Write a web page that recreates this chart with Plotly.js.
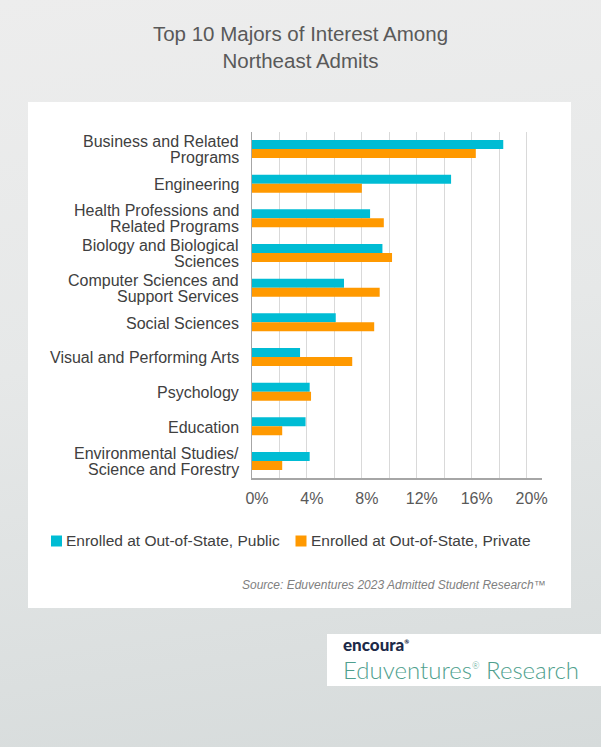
<!DOCTYPE html>
<html><head><meta charset="utf-8">
<script src="https://cdn.plot.ly/plotly-3.0.1.min.js"></script>
<style>
html,body{margin:0;padding:0;width:601px;height:747px;overflow:hidden;
background:linear-gradient(172deg,#ededed 0%,#e6e8e8 45%,#d6dbdb 100%);}
#chart{width:601px;height:747px;}
</style>
</head><body><div id="chart"></div>
<script>
const categories = [
  "Business and Related Programs",
  "Engineering",
  "Health Professions and Related Programs",
  "Biology and Biological Sciences",
  "Computer Sciences and Support Services",
  "Social Sciences",
  "Visual and Performing Arts",
  "Psychology",
  "Education",
  "Environmental Studies/ Science and Forestry"
];
const categoryLabels = [
  "Business and Related<br>Programs",
  "Engineering",
  "Health Professions and<br>Related Programs",
  "Biology and Biological<br>Sciences",
  "Computer Sciences and<br>Support Services",
  "Social Sciences",
  "Visual and Performing Arts",
  "Psychology",
  "Education",
  "Environmental Studies/<br>Science and Forestry"
];
const publicVals  = [18.3, 14.5, 8.6, 9.5, 6.7, 6.1, 3.5, 4.2, 3.9, 4.2];
const privateVals = [16.3, 8.0, 9.6, 10.2, 9.3, 8.9, 7.3, 4.3, 2.2, 2.2];
const seriesNames = ["Enrolled at Out-of-State, Public", "Enrolled at Out-of-State, Private"];
const tickVals = [0, 4, 8, 12, 16, 20];
const tickLabels = tickVals.map(v => v + "%");
const titleText = "Top 10 Majors of Interest Among<br>Northeast Admits";
const sourceText = "Source: Eduventures 2023 Admitted Student Research™";

const W = 601, H = 747;
const px = x => x / W;
const py = y => 1 - y / H;
const colors = ["#00bcd4", "#ff9900"];
const font = "Liberation Sans, Arial, sans-serif";

const traces = [publicVals, privateVals].map((vals, i) => ({
  type: "bar",
  orientation: "h",
  y: categories,
  x: vals,
  name: seriesNames[i],
  marker: {color: colors[i]},
  showlegend: false
}));

const shapes = [
  {type: "rect", xref: "paper", yref: "paper", x0: px(28), x1: px(571), y0: py(608), y1: py(102),
   fillcolor: "#ffffff", line: {width: 0}, layer: "below"},
  {type: "rect", xref: "paper", yref: "paper", x0: px(327), x1: px(601), y0: py(686), y1: py(634),
   fillcolor: "#ffffff", line: {width: 0}, layer: "below"},
  {type: "rect", xref: "paper", yref: "paper", x0: px(51), x1: px(62), y0: py(546.5), y1: py(535.5),
   fillcolor: colors[0], line: {width: 0}},
  {type: "rect", xref: "paper", yref: "paper", x0: px(295.5), x1: px(306.5), y0: py(546.5), y1: py(535.5),
   fillcolor: colors[1], line: {width: 0}}
];

const annotations = [
  {xref: "paper", yref: "paper", x: px(64), y: py(540.5), xanchor: "left", yanchor: "middle",
   text: seriesNames[0], showarrow: false, font: {family: font, size: 15.5, color: "#404040"}},
  {xref: "paper", yref: "paper", x: px(308.5), y: py(540.5), xanchor: "left", yanchor: "middle",
   text: seriesNames[1], showarrow: false, font: {family: font, size: 15.5, color: "#404040"}},
  {xref: "paper", yref: "paper", x: px(548), y: py(585), xanchor: "right", yanchor: "middle",
   text: "<i>" + sourceText + "</i>", showarrow: false, font: {family: font, size: 12, color: "#808080"}},
  {xref: "paper", yref: "paper", x: px(341), y: py(644.5), xanchor: "left", yanchor: "middle",
   text: "encoura<sup><span style='font-size:6px'>®</span></sup>", showarrow: false,
   font: {family: "Lato, sans-serif", size: 17, weight: 900, color: "#1d2a48"}},
  {xref: "paper", yref: "paper", x: px(341), y: py(669), xanchor: "left", yanchor: "middle",
   text: "Eduventures<sup><span style='font-size:9px'>®</span></sup> Research", showarrow: false,
   font: {family: "Lato, sans-serif", size: 24, weight: 300, color: "#4f9f8e"}}
];

// category labels, one annotation per line (tight line spacing as in the reference)
categories.forEach((cat, i) => {
  const lines = categoryLabels[i].split("<br>");
  const offsets = lines.length === 1 ? [-1] : [7.5, -8.5];
  lines.forEach((ln, j) => {
    annotations.push({
      xref: "paper", yref: "y", x: px(241), y: cat, yshift: offsets[j],
      xanchor: "right", yanchor: "middle", text: ln, showarrow: false,
      font: {family: font, size: 16, color: "#404040"}
    });
  });
});

const layout = {
  width: W, height: H,
  margin: {l: 0, r: 0, t: 0, b: 0},
  paper_bgcolor: "rgba(0,0,0,0)",
  plot_bgcolor: "rgba(0,0,0,0)",
  barmode: "group",
  bargap: 0.48,
  bargroupgap: 0,
  title: {text: titleText, x: 0.5, xanchor: "center", xref: "paper", y: py(41), yanchor: "middle", yref: "paper",
          font: {family: font, size: 20.5, color: "#595959"}},
  xaxis: {
    domain: [px(252), px(541.7)],
    range: [0, 21.1],
    tickmode: "array",
    tickvals: tickVals,
    ticktext: tickLabels,
    showgrid: true, gridcolor: "#d9d9d9", gridwidth: 1,
    minor: {dtick: 2, showgrid: true, gridcolor: "#d9d9d9", gridwidth: 1},
    zeroline: false,
    showline: true, linecolor: "#a6a6a6", linewidth: 1.5,
    ticks: "",
    ticklabelshift: 5,
    ticklabelstandoff: 5,
    tickfont: {family: font, size: 16, color: "#595959"},
    fixedrange: true
  },
  yaxis: {
    domain: [py(478.3), py(131.7)],
    type: "category",
    categoryorder: "array", categoryarray: categories,
    range: [9.5, -0.5],
    showticklabels: false,
    showgrid: false, zeroline: false,
    showline: true, linecolor: "#a6a6a6", linewidth: 1.5,
    ticks: "",
    fixedrange: true
  },
  shapes: shapes,
  annotations: annotations,
  showlegend: false
};

Plotly.newPlot("chart", traces, layout, {displayModeBar: false, staticPlot: true});
</script>
</body></html>
